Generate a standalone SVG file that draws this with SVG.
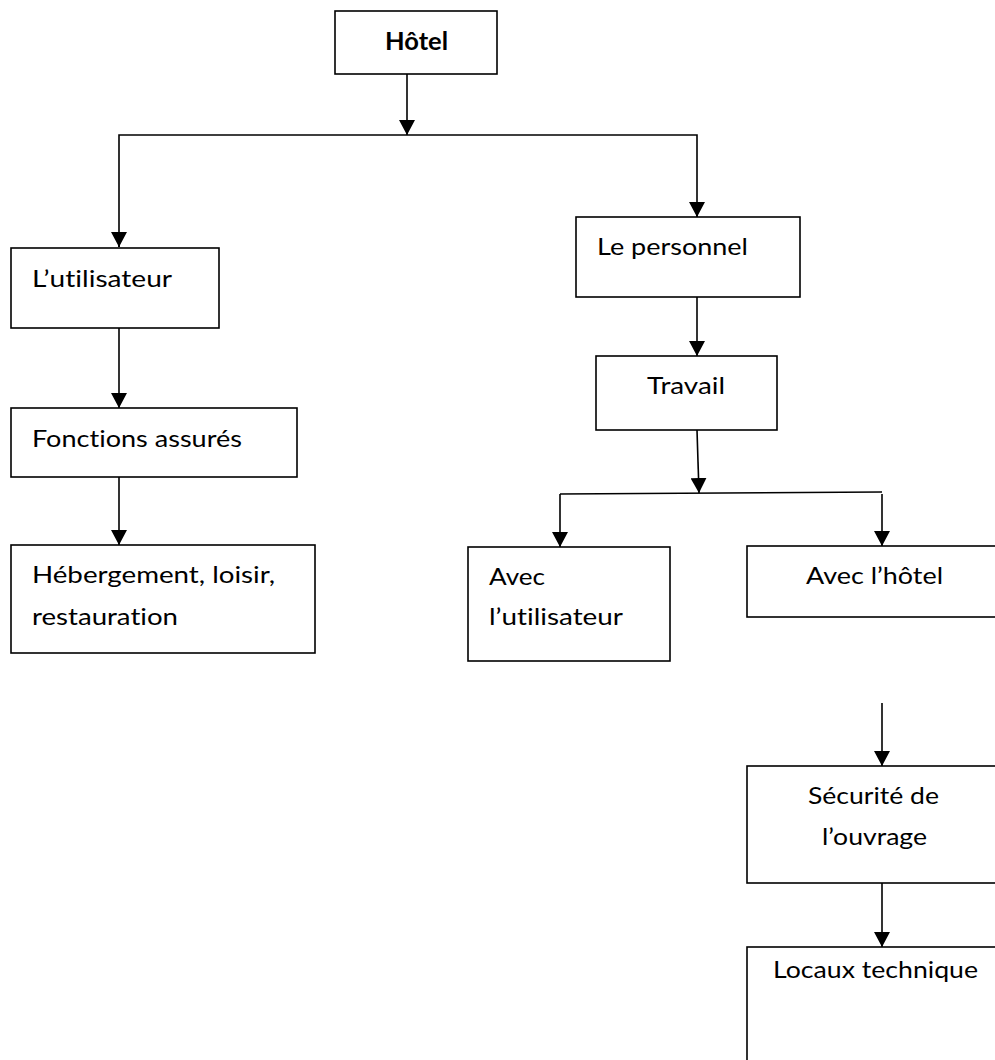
<svg xmlns="http://www.w3.org/2000/svg" width="995" height="1060" viewBox="0 0 995 1060">
<style>
.box{fill:#fff;stroke:#000;stroke-width:1.6}
.t{font-family:Lato,"Open Sans","Liberation Sans",sans-serif;font-size:24px;fill:#000;font-variant-ligatures:none;font-feature-settings:"liga" 0,"dlig" 0}
.b{font-weight:bold}
.c{fill:none;stroke:#000;stroke-width:1.6}
</style>
<defs>
<marker id="arr" markerUnits="userSpaceOnUse" markerWidth="15" markerHeight="16" viewBox="0 0 15 16" refX="15" refY="8" orient="auto">
<path d="M0,0 L15,8 L0,16 z" fill="#000"/>
</marker>
</defs>
<rect width="995" height="1060" fill="#fff"/>
<g id="connectors">
<line class="c" x1="407" y1="74" x2="407" y2="135" marker-end="url(#arr)"/>
<polyline class="c" points="119,247 119,135 697,135 697,217"/>
<line class="c" x1="119" y1="232" x2="119" y2="247" marker-end="url(#arr)"/>
<line class="c" x1="697" y1="202" x2="697" y2="217" marker-end="url(#arr)"/>
<line class="c" x1="119" y1="328" x2="119" y2="408" marker-end="url(#arr)"/>
<line class="c" x1="119" y1="477" x2="119" y2="545" marker-end="url(#arr)"/>
<line class="c" x1="697" y1="297" x2="697" y2="356" marker-end="url(#arr)"/>
<line class="c" x1="697" y1="430" x2="699" y2="493" marker-end="url(#arr)"/>
<line class="c" x1="560" y1="494" x2="882" y2="492"/>
<line class="c" x1="560" y1="494" x2="560" y2="547" marker-end="url(#arr)"/>
<line class="c" x1="882" y1="494" x2="882" y2="546" marker-end="url(#arr)"/>
<line class="c" x1="882" y1="703" x2="882" y2="766" marker-end="url(#arr)"/>
<line class="c" x1="882" y1="883" x2="882" y2="947" marker-end="url(#arr)"/>
</g>
<g id="hotel">
<rect class="box" x="335" y="11" width="162" height="63"/>
<text class="t b" x="385" y="50" textLength="63" lengthAdjust="spacingAndGlyphs">Hôtel</text>
</g>
<g id="utilisateur">
<rect class="box" x="11" y="248" width="208" height="80"/>
<text class="t" x="32" y="287" textLength="140" lengthAdjust="spacingAndGlyphs">L’utilisateur</text>
</g>
<g id="fonctions">
<rect class="box" x="11" y="408" width="286" height="69"/>
<text class="t" x="32" y="447" textLength="210" lengthAdjust="spacingAndGlyphs">Fonctions assurés</text>
</g>
<g id="hebergement">
<rect class="box" x="11" y="545" width="304" height="108"/>
<text class="t" x="32" y="583" textLength="243" lengthAdjust="spacingAndGlyphs">Hébergement, loisir,</text>
<text class="t" x="32" y="625" textLength="146" lengthAdjust="spacingAndGlyphs">restauration</text>
</g>
<g id="personnel">
<rect class="box" x="576" y="217" width="224" height="80"/>
<text class="t" x="597" y="255" textLength="151" lengthAdjust="spacingAndGlyphs">Le personnel</text>
</g>
<g id="travail">
<rect class="box" x="596" y="356" width="181" height="74"/>
<text class="t" x="647" y="394" textLength="78" lengthAdjust="spacingAndGlyphs">Travail</text>
</g>
<g id="avec-utilisateur">
<rect class="box" x="468" y="547" width="202" height="114"/>
<text class="t" x="489" y="585" textLength="56" lengthAdjust="spacingAndGlyphs">Avec</text>
<text class="t" x="489" y="625" textLength="134" lengthAdjust="spacingAndGlyphs">l’utilisateur</text>
</g>
<g id="avec-hotel">
<rect class="box" x="747" y="546" width="260" height="71"/>
<text class="t" x="806" y="584" textLength="137" lengthAdjust="spacingAndGlyphs">Avec l’hôtel</text>
</g>
<g id="securite">
<rect class="box" x="747" y="766" width="260" height="117"/>
<text class="t" x="808" y="804" textLength="131" lengthAdjust="spacingAndGlyphs">Sécurité de</text>
<text class="t" x="822" y="845" textLength="105" lengthAdjust="spacingAndGlyphs">l’ouvrage</text>
</g>
<g id="locaux">
<rect class="box" x="747" y="947" width="260" height="130"/>
<text class="t" x="773" y="978" textLength="205" lengthAdjust="spacingAndGlyphs">Locaux technique</text>
</g>
</svg>
